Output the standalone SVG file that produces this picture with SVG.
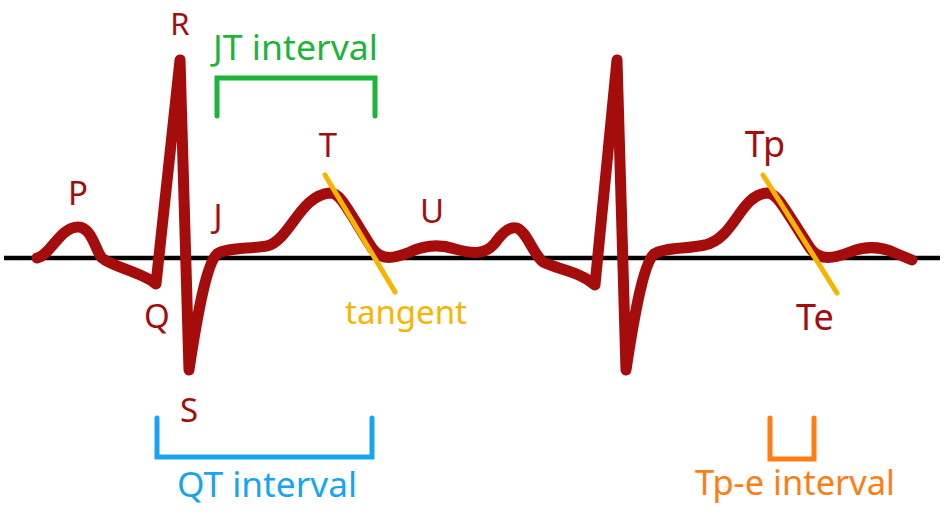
<svg xmlns="http://www.w3.org/2000/svg" width="945" height="515" viewBox="0 0 945 515">
<style>
.ecg{fill:none;stroke:#a50d0d;stroke-width:11;stroke-linejoin:round;stroke-linecap:round}
.base{stroke:#000;stroke-width:4.5}
.tan{stroke:#f7b500;stroke-width:5;stroke-linecap:round}
.lbl{font-family:"Noto Sans","Liberation Sans",sans-serif;font-size:33px;fill:#a50d0d;text-anchor:middle}
.iv{font-family:"Noto Sans","Liberation Sans",sans-serif;font-size:35px}
.br{fill:none;stroke-width:5;stroke-linecap:round;stroke-linejoin:miter}
</style>
<rect width="945" height="515" fill="#fff"/>
<g id="baseline"><line class="base" x1="4" y1="258" x2="940" y2="258"/></g>
<g id="ecg-trace">
<path class="ecg" d="M37,258 C50,256 60,227 78,227 C92,227 96,252 102,258 C112,267 142,272 156,284 L180,60 L189,370 C195,330 205,265 217,254 C225,248 245,249 267,246 C290,240 300,195 330,193 C340,193 345,205 372,248 C382,262 395,258 410,252 C425,245 440,244 455,249 C470,253 485,256 495,243 C503,232 510,226 517,228 C527,232 533,254 543,262 C560,270 580,272 595,285 L617,60 L626,370 C632,330 642,265 654,254 C662,248 685,249 705,245 C735,238 740,195 767,193 C777,193 782,205 810,248 C820,262 835,258 850,252 C865,246 880,246 895,253 L912,260"/>
</g>
<g id="connectors">
<line class="tan" x1="325" y1="175" x2="395" y2="292"/>
<line class="tan" x1="763" y1="175" x2="837" y2="293"/>
</g>
<g id="labels">
<text class="lbl" x="180" y="35" style="font-size:31px">R</text>
<text class="lbl" x="78" y="205">P</text>
<text class="lbl" x="157" y="328">Q</text>
<text class="lbl" x="189" y="422">S</text>
<text class="lbl" x="218" y="228">J</text>
<text class="lbl" x="328" y="157">T</text>
<text class="lbl" x="432" y="223">U</text>
<text class="lbl" x="765" y="157" style="font-size:36px">Tp</text>
<text class="lbl" x="815" y="330" style="font-size:36px">Te</text>
<text x="345" y="324" style="font-family:'Noto Sans','Liberation Sans',sans-serif;font-size:32px;fill:#f7b500" textLength="122" lengthAdjust="spacingAndGlyphs">tangent</text>
</g>
<g id="jt-interval">
<polyline class="br" stroke="#1db43a" points="217,116 217,78 375,78 375,116"/>
<text class="iv" x="213" y="60" fill="#1db43a" textLength="165" lengthAdjust="spacingAndGlyphs">JT interval</text>
</g>
<g id="qt-interval">
<polyline class="br" stroke="#1aa3f2" points="157,418 157,457 372,457 372,418"/>
<text class="iv" x="177" y="497" fill="#1aa3f2" textLength="180" lengthAdjust="spacingAndGlyphs">QT interval</text>
</g>
<g id="tpe-interval">
<polyline class="br" stroke="#ff7d12" points="770,418 770,459 814,459 814,418"/>
<text class="iv" x="695" y="495" fill="#ff7d12" textLength="200" lengthAdjust="spacingAndGlyphs">Tp-e interval</text>
</g>
</svg>
